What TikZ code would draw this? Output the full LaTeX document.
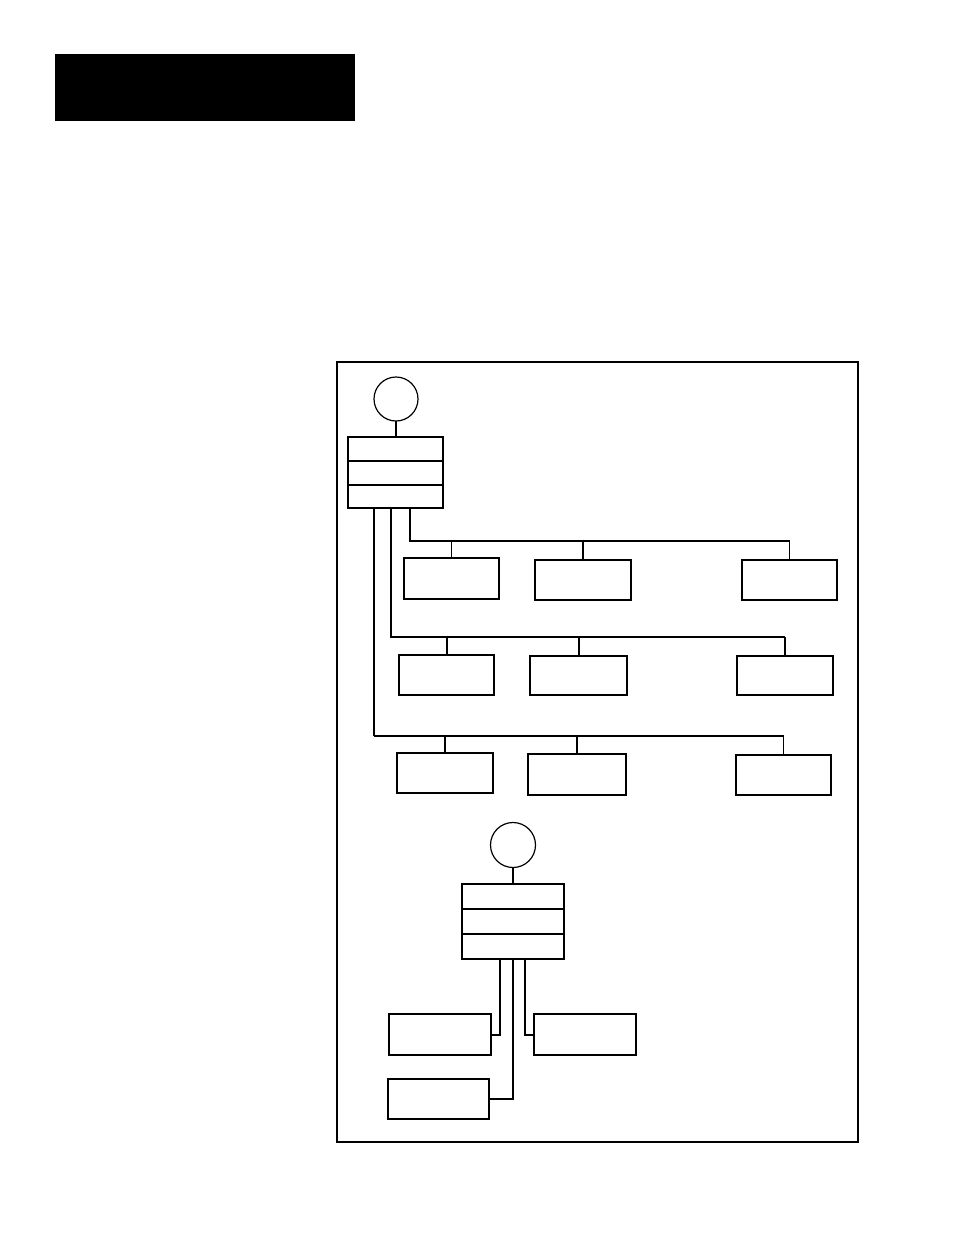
\documentclass[tikz,border=0pt]{standalone}
\usetikzlibrary{positioning}

\begin{document}
\begin{tikzpicture}[
    x=1pt, y=-1pt,
    banner/.style={rectangle, fill=black, inner sep=0pt, outer sep=0pt, minimum width=300pt, minimum height=67pt, anchor=north west},
    frame/.style={draw=black, line width=1.5pt},
    root/.style={circle, draw=black, line width=1.2pt, inner sep=0pt, outer sep=0pt, minimum size=44pt},
    stack/.style={rectangle, draw=black, line width=2pt, inner sep=0pt, outer sep=0pt, anchor=north west},
    leaf/.style={rectangle, draw=black, line width=1.3pt, inner sep=0pt, outer sep=0pt, minimum width=96pt, minimum height=40pt, anchor=north west},
    leafbold/.style={leaf, line width=2pt},
    bus/.style={draw=black, line width=2pt},
    wire/.style={draw=black, line width=1.2pt}
]
\useasboundingbox (0,0) rectangle (954,1235);

% Heading bar and frame
\node (Banner) [banner] at (55,54) {};
\draw [frame] (337,362) rectangle (858,1142);

% Nodes
\node (TopRoot) [root] at (396,399) {};
\node (TopStack) [stack, minimum width=95pt, minimum height=71pt] at (348,437) {};
\draw [wire] (TopStack.west |- 0,461) -- (TopStack.east |- 0,461);
\draw [bus] (TopStack.west |- 0,485) -- (TopStack.east |- 0,485);

\node (LeafA) [leafbold, minimum width=95pt, minimum height=41pt] at (404,558) {};
\node (LeafB) [leafbold] at (535,560) {};
\node (LeafC) [leafbold, minimum width=95pt] at (742,560) {};

\node (LeafD) [leaf, line width=1.4pt, minimum width=95pt] at (399,655) {};
\node (LeafE) [leaf, line width=1.7pt, minimum width=97pt, minimum height=39pt] at (530,656) {};
\node (LeafF) [leaf, line width=1.7pt, minimum height=39pt] at (737,656) {};

\node (LeafG) [leafbold] at (397,753) {};
\node (LeafH) [leaf, minimum width=98pt, minimum height=41pt] at (528,754) {};
\node (LeafI) [leaf, line width=1.7pt, minimum width=95pt] at (736,755) {};

\node (SubRoot) [root, minimum size=45pt] at (513,845) {};
\node (SubStack) [stack, minimum width=102pt, minimum height=75pt] at (462,884) {};
\draw [bus] (SubStack.west |- 0,909) -- (SubStack.east |- 0,909);
\draw [bus] (SubStack.west |- 0,934) -- (SubStack.east |- 0,934);

\node (LeafJ) [leaf, minimum width=102pt, minimum height=41pt] at (389,1014) {};
\node (LeafK) [leafbold, minimum width=102pt, minimum height=41pt] at (534,1014) {};
\node (LeafL) [leafbold, minimum width=101pt, minimum height=40pt] at (388,1079) {};

\coordinate (BusOne) at (410,541);
\coordinate (BusTwo) at (391,637);
\coordinate (BusThree) at (374,736);

% Connectors
\draw [wire] (TopRoot.south) -- (TopRoot.south |- TopStack.north);

\draw [bus] (TopStack.south -| BusOne) -- (BusOne) -- (BusOne -| LeafC.north);
\draw [wire] (BusOne -| LeafA.north) -- (LeafA.north);
\draw [bus] (BusOne -| LeafB.north) -- (LeafB.north);
\draw [wire] (BusOne -| LeafC.north) -- (LeafC.north);

\draw [wire] (TopStack.south -| BusTwo) -- (BusTwo) -- (BusTwo -| LeafF.north);
\draw [bus] (BusTwo -| LeafD.north) -- (LeafD.north);
\draw [bus] (BusTwo -| LeafE.north) -- (LeafE.north);
\draw [bus] (BusTwo -| LeafF.north) -- (LeafF.north);

\draw [wire] (TopStack.south -| BusThree) -- (BusThree);
\draw [bus] (BusThree) -- (BusThree -| LeafI.north);
\draw [wire] (BusThree -| LeafG.north) -- (LeafG.north);
\draw [wire] (BusThree -| LeafH.north) -- (LeafH.north);
\draw [wire] (BusThree -| LeafI.north) -- (LeafI.north);

\draw [wire] (SubRoot.south) -- (SubRoot.south |- SubStack.north);
\draw [bus] (SubStack.south -| 500,0) |- (LeafJ.east);
\draw [wire] (SubStack.south) |- (LeafL.east);
\draw [bus] (SubStack.south -| 525,0) |- (LeafK.west);

\end{tikzpicture}
\end{document}
